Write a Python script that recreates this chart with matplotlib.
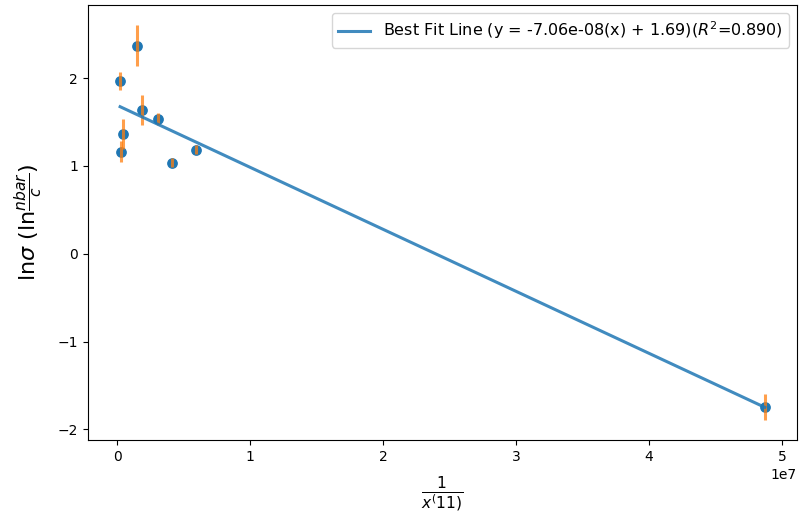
import matplotlib
matplotlib.use("Agg")
import matplotlib.pyplot as plt
import numpy as np

x_vals = [2.25e5, 1.50e6, 1.90e6, 3.08e6, 4.5e5, 2.8e5, 4.10e6, 5.90e6, 4.87e7]
y_vals = [1.966, 2.37, 1.64, 1.537, 1.364, 1.164, 1.038, 1.184, -1.747]
y_err = [0.10, 0.235, 0.17, 0.067, 0.175, 0.125, 0.05, 0.05, 0.15]
slope = -7.06e-08
intercept = 1.69
r2 = 0.890

fig = plt.figure(figsize=(7.99, 5.16), dpi=100)
ax = fig.add_axes([0.110, 0.147, 0.8875, 0.843])

x = np.array(x_vals)
ax.scatter(x, y_vals, s=45)
ax.errorbar(x, y_vals, yerr=y_err, fmt='none', ecolor='tab:orange',
            elinewidth=2.2, alpha=0.75)
xs = np.sort(x)
ax.plot(xs, slope * xs + intercept, lw=2.2, alpha=0.85,
        label='Best Fit Line (y = %.2e(x) + %.2f)($R^2$=%.3f)' % (slope, intercept, r2))
ax.legend(loc='upper right', fontsize=11.5)
ax.set_xlabel(r'$\frac{1}{x^(11)}$', fontsize=16, labelpad=8)
ax.set_ylabel(r'$\mathrm{ln}\sigma$ ($\mathrm{ln}\frac{nbar}{c}$)', fontsize=16, labelpad=9)
fig.savefig('out.png', dpi=100)
